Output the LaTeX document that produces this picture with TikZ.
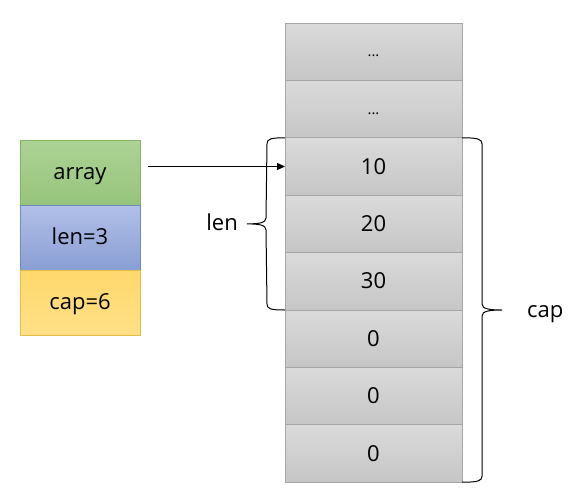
\documentclass[tikz,border=0pt]{standalone}
\usepackage{fontspec}
\setmainfont{Open Sans}
\usetikzlibrary{positioning,arrows.meta,calc}
\definecolor{CellTop}{RGB}{218,218,218}
\definecolor{CellBottom}{RGB}{198,198,198}
\definecolor{CellLine}{RGB}{166,166,166}
\definecolor{PtrTop}{RGB}{172,211,148}
\definecolor{PtrBottom}{RGB}{150,196,124}
\definecolor{PtrLine}{RGB}{130,179,102}
\definecolor{LenTop}{RGB}{178,192,232}
\definecolor{LenBottom}{RGB}{136,158,212}
\definecolor{LenLine}{RGB}{108,142,191}
\definecolor{CapTop}{RGB}{255,216,108}
\definecolor{CapBottom}{RGB}{255,224,135}
\definecolor{CapLine}{RGB}{228,190,72}
\tikzset{
  cell/.style={draw=CellLine,line width=1pt,top color=CellTop,bottom color=CellBottom,
    minimum width=177pt,minimum height=57.4pt,outer sep=0pt,inner sep=0pt,
    text height=16pt,text depth=1pt,font=\fontsize{22}{26}\selectfont},
  dots/.style={font=\fontsize{15}{18}\selectfont,text height=10pt,text depth=0pt},
  field/.style={line width=1pt,minimum width=120pt,minimum height=65pt,
    outer sep=0pt,inner sep=0pt,text height=15pt,text depth=1pt,
    font=\fontsize{22}{26}\selectfont},
  ptrfield/.style={field,draw=PtrLine,top color=PtrTop,bottom color=PtrBottom},
  lenfield/.style={field,draw=LenLine,top color=LenTop,bottom color=LenBottom},
  capfield/.style={field,draw=CapLine,top color=CapTop,bottom color=CapBottom},
  ptr/.style={-{Triangle[length=8pt,width=7pt]},line width=1pt},
  brace/.style={line width=1pt},
  bracelabel/.style={inner sep=0pt,text height=15pt,text depth=1pt,
    font=\fontsize{22}{26}\selectfont}
}
\begin{document}
\begin{tikzpicture}[x=1pt,y=-1pt,node distance=0pt]
  \useasboundingbox (0,0) rectangle (583,501);

  % backing array
  \node[cell,dots] (c1) at (373.5,51.7) {...};
  \node[cell,dots,below=of c1] (c2) {...};
  \node[cell,below=of c2] (c3) {10};
  \node[cell,below=of c3] (c4) {20};
  \node[cell,below=of c4] (c5) {30};
  \node[cell,below=of c5] (c6) {0};
  \node[cell,below=of c6] (c7) {0};
  \node[cell,below=of c7] (c8) {0};

  % slice header
  \node[ptrfield] (array) at (80,172.5) {array};
  \node[lenfield,below=of array] (len) {len=3};
  \node[capfield,below=of len] (cap) {cap=6};

  \draw[ptr] ([xshift=8pt]array.east |- c3.west) -- (c3.west);

  % len brace
  \coordinate (lenTip) at ($(c3.north west)!0.5!(c5.south west)+(-38,0)$);
  \draw[brace] (c3.north west) .. controls +(-14,0) and +(0,-5) .. ($(c3.north west)+(-18,6)$)
    -- ($(lenTip)+(19,-6)$) .. controls +(0,5) and +(12,0) .. (lenTip)
    .. controls +(12,0) and +(0,-5) .. ($(lenTip)+(19,6)$)
    -- ($(c5.south west)+(-18,-6)$) .. controls +(0,5) and +(-14,0) .. (c5.south west);
  \node[bracelabel,left=9pt of lenTip] (lenlabel) {len};

  % cap brace
  \coordinate (capTip) at ($(c3.north east)!0.5!(c8.south east)+(40,0)$);
  \draw[brace] (c3.north east) .. controls +(15,0) and +(0,-5) .. ($(c3.north east)+(20,6)$)
    -- ($(capTip)+(-20,-6)$) .. controls +(0,5) and +(-12,0) .. (capTip)
    .. controls +(-12,0) and +(0,-5) .. ($(capTip)+(-20,6)$)
    -- ($(c8.south east)+(20,-6)$) .. controls +(0,5) and +(15,0) .. (c8.south east);
  \node[bracelabel,right=25pt of capTip] (caplabel) {cap};
\end{tikzpicture}
\end{document}
